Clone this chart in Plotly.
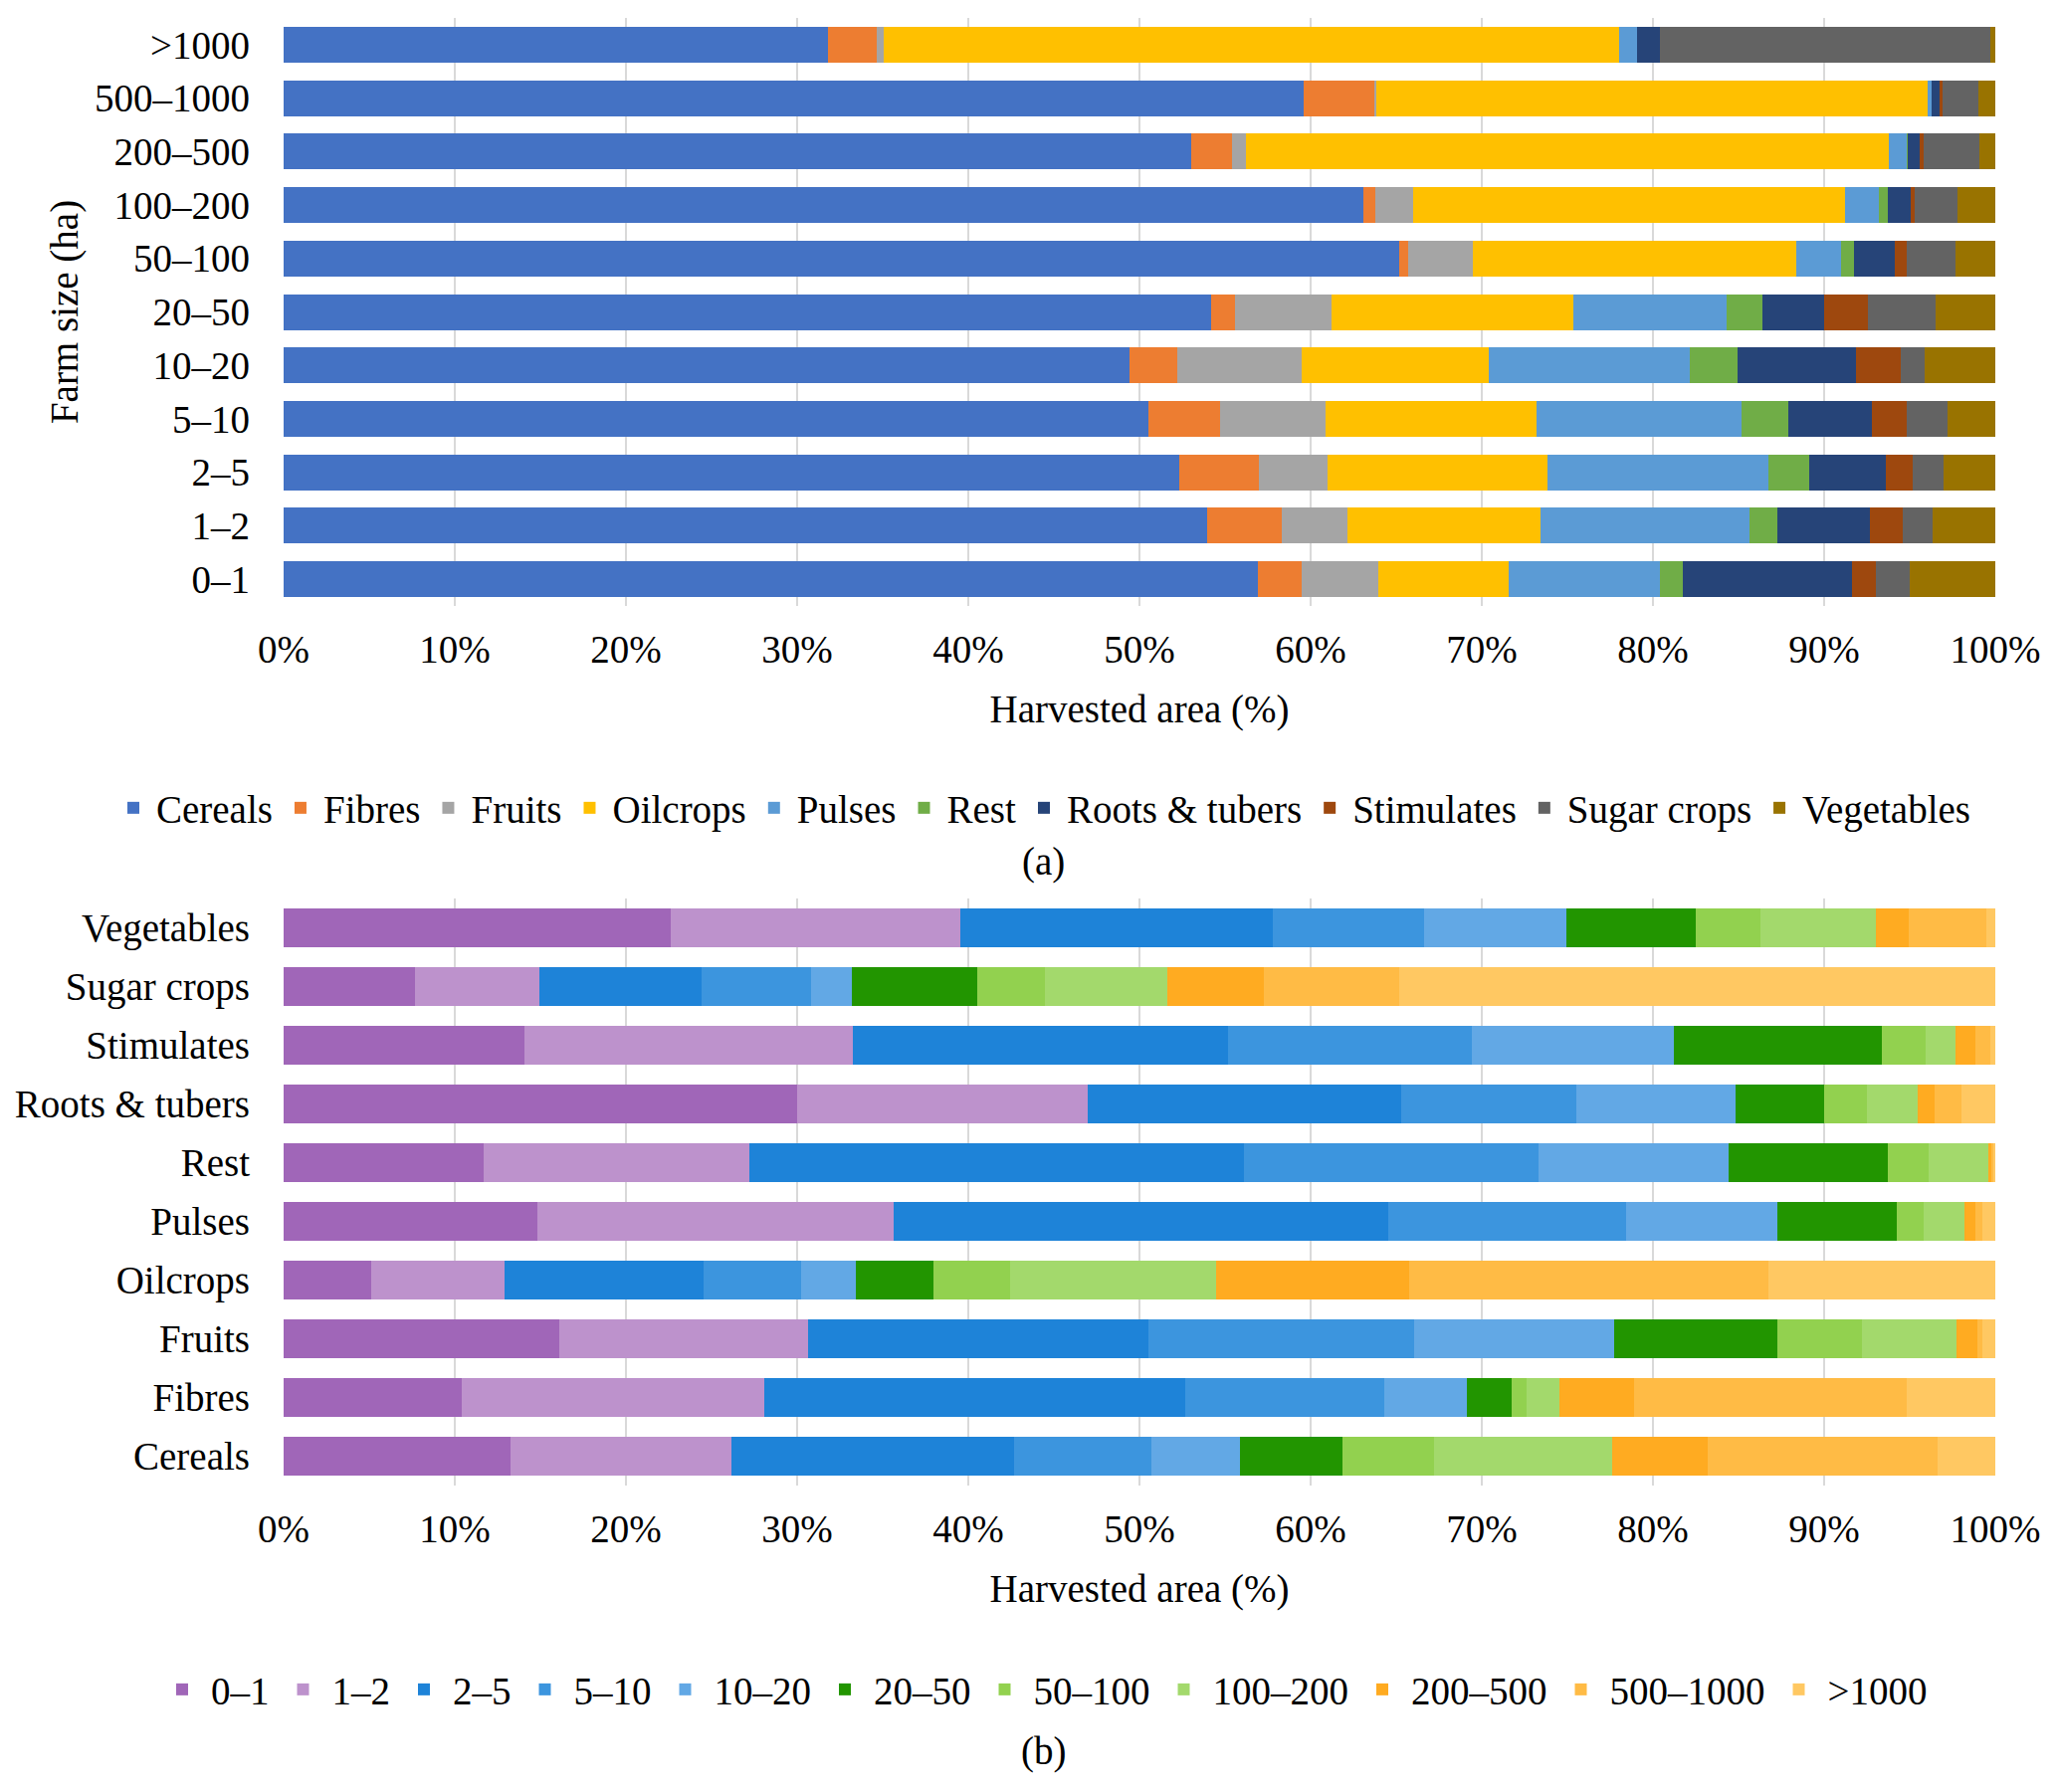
import plotly.graph_objects as go

W, H = 2067, 1801
OFF = 8  # page body margin of the exported html
FONT = "Liberation Serif, Times New Roman, serif"
FS = 39

# ---------------- (a) crop shares per farm size ----------------
farm_sizes = ["0–1", "1–2", "2–5", "5–10", "10–20", "20–50", "50–100",
              "100–200", "200–500", "500–1000", ">1000"]

cereals    = [56.9, 53.95, 52.35, 50.5, 49.4, 54.2, 65.2, 63.1, 53.0, 59.6, 31.8]
fibres     = [2.6, 4.35, 4.6, 4.2, 2.8, 1.4, 0.5, 0.7, 2.4, 4.1, 2.85]
fruits     = [4.45, 3.85, 4.05, 6.15, 7.3, 5.6, 3.8, 2.2, 0.8, 0.15, 0.4]
oilcrops   = [7.6, 11.3, 12.85, 12.35, 10.9, 14.15, 18.9, 25.2, 37.6, 32.2, 43.0]
pulses     = [8.85, 12.2, 12.9, 12.0, 11.75, 8.95, 2.6, 2.0, 1.05, 0.25, 1.0]
rest       = [1.35, 1.6, 2.35, 2.7, 2.8, 2.1, 0.75, 0.5, 0.05, 0.0, 0.0]
roots      = [9.85, 5.45, 4.5, 4.9, 6.9, 3.6, 2.35, 1.35, 0.7, 0.5, 1.35]
stimulates = [1.4, 1.9, 1.6, 2.05, 2.65, 2.55, 0.75, 0.25, 0.2, 0.1, 0.0]
sugar      = [2.0, 1.75, 1.75, 2.35, 1.4, 3.95, 2.8, 2.5, 3.25, 2.1, 19.3]
vegetables = [5.0, 3.65, 3.05, 2.8, 4.2, 3.5, 2.35, 2.2, 0.95, 1.0, 0.3]

crops = ["Cereals", "Fibres", "Fruits", "Oilcrops", "Pulses", "Rest",
         "Roots & tubers", "Stimulates", "Sugar crops", "Vegetables"]
crop_series = [cereals, fibres, fruits, oilcrops, pulses, rest, roots,
               stimulates, sugar, vegetables]
crop_colors = ["#4472C4", "#ED7D31", "#A5A5A5", "#FFC000", "#5B9BD5",
               "#70AD47", "#264478", "#9E480E", "#636363", "#997300"]

# ---------------- (b) farm-size shares per crop ----------------
s0_1      = [13.25, 10.4, 16.1, 5.1, 14.8, 11.7, 30.0, 14.05, 7.7, 22.6]
s1_2      = [12.9, 17.7, 14.55, 7.8, 20.85, 15.5, 17.0, 19.2, 7.25, 16.95]
s2_5      = [16.5, 24.6, 19.85, 11.65, 28.9, 28.9, 18.3, 21.95, 9.45, 18.25]
s5_10     = [8.05, 11.6, 15.55, 5.7, 13.9, 17.2, 10.25, 14.2, 6.4, 8.85]
s10_20    = [5.15, 4.85, 11.7, 3.2, 8.8, 11.1, 9.25, 11.8, 2.4, 8.3]
s20_50    = [6.0, 2.6, 9.5, 4.5, 7.0, 9.3, 5.2, 12.2, 7.35, 7.55]
s50_100   = [5.35, 0.85, 4.95, 4.5, 1.55, 2.4, 2.5, 2.55, 3.95, 3.75]
s100_200  = [10.4, 1.95, 5.55, 12.0, 2.4, 3.5, 2.95, 1.7, 7.1, 6.8]
s200_500  = [5.6, 4.35, 1.2, 11.3, 0.65, 0.2, 1.0, 1.2, 5.65, 1.9]
s500_1000 = [13.4, 15.9, 0.3, 21.0, 0.4, 0.1, 1.55, 0.85, 7.95, 4.5]
s1000     = [3.4, 5.2, 0.75, 13.25, 0.75, 0.1, 2.0, 0.3, 34.8, 0.55]

size_series = [s0_1, s1_2, s2_5, s5_10, s10_20, s20_50, s50_100, s100_200,
               s200_500, s500_1000, s1000]
size_colors = ["#A066B8", "#BD92CC", "#1E83D8", "#3C95DE", "#62A8E5",
               "#229500", "#92D14F", "#A3D96C", "#FFAB21", "#FFBB45", "#FFC862"]

fig = go.Figure()
for name, vals, col in zip(crops, crop_series, crop_colors):
    fig.add_trace(go.Bar(y=farm_sizes, x=vals, name=name, orientation="h",
                         marker=dict(color=col, line=dict(width=0)),
                         xaxis="x", yaxis="y", legend="legend"))
for name, vals, col in zip(farm_sizes, size_series, size_colors):
    fig.add_trace(go.Bar(y=crops, x=vals, name=name, orientation="h",
                         marker=dict(color=col, line=dict(width=0)),
                         xaxis="x2", yaxis="y2", legend="legend2"))


def px_x(v):
    return (v - OFF) / W


def px_y(v):
    return 1 - (v - OFF) / H


xdom = [px_x(285), px_x(2005)]
axis_common = dict(range=[0, 100], dtick=10, ticksuffix="%", showgrid=True,
                   gridcolor="#D9D9D9", gridwidth=2, zeroline=False,
                   showline=False, ticks="", automargin=False,
                   ticklabelstandoff=17,
                   tickfont=dict(size=FS, color="black"))
yaxis_common = dict(showgrid=False, zeroline=False, showline=False, ticks="",
                    automargin=False, tickfont=dict(size=FS, color="black"),
                    ticklabelstandoff=33)

legend_common = dict(orientation="h", xanchor="center", yanchor="middle",
                     font=dict(size=FS, color="black", family=FONT),
                     traceorder="normal", bgcolor="rgba(0,0,0,0)")

fig.update_layout(
    width=W, height=H, barmode="stack", bargap=0.33,
    margin=dict(l=0, r=0, t=0, b=0),
    paper_bgcolor="white", plot_bgcolor="white",
    font=dict(family=FONT, size=FS, color="black"),
    xaxis=dict(domain=xdom, anchor="y",
               title=dict(text="Harvested area (%)", standoff=25,
                          font=dict(size=FS)), **axis_common),
    yaxis=dict(domain=[px_y(609), px_y(18)], anchor="x",
               title=dict(text="Farm size (ha)", standoff=4,
                          font=dict(size=FS)), **yaxis_common),
    xaxis2=dict(domain=xdom, anchor="y2",
                title=dict(text="Harvested area (%)", standoff=25,
                           font=dict(size=FS)), **axis_common),
    yaxis2=dict(domain=[px_y(1493), px_y(903)], anchor="x2", **yaxis_common),
    legend=dict(x=px_x(1048), y=px_y(812), itemwidth=36, **legend_common),
    legend2=dict(x=px_x(1048), y=px_y(1698), itemwidth=48, **legend_common),
    annotations=[
        dict(text="(a)", x=px_x(1048), y=px_y(866), xref="paper", yref="paper",
             showarrow=False, font=dict(size=FS, color="black"),
             xanchor="center", yanchor="middle"),
        dict(text="(b)", x=px_x(1048), y=px_y(1760), xref="paper", yref="paper",
             showarrow=False, font=dict(size=FS, color="black"),
             xanchor="center", yanchor="middle"),
    ],
)

fig.write_html("out.html")
